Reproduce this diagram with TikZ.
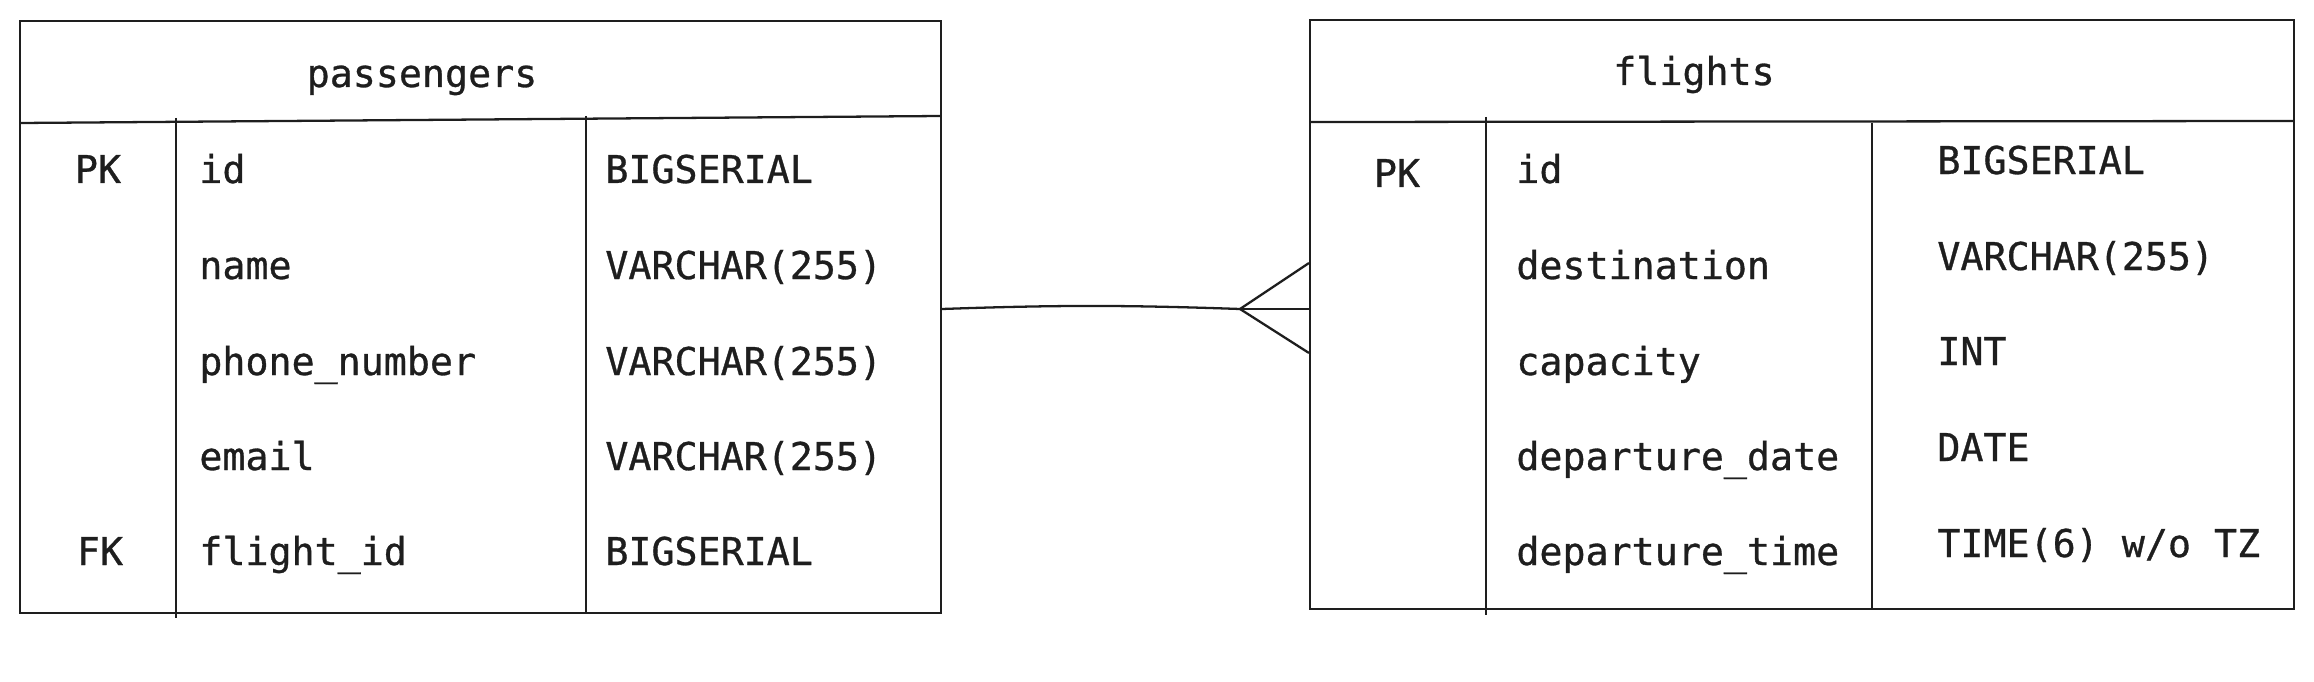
\documentclass[tikz,border=0pt]{standalone}
\usepackage{fontspec}
\usepackage{tikz}
\newfontfamily\codefont[FakeBold=0.8]{DejaVu Sans Mono}
\definecolor{ink}{HTML}{1E1E1E}

\begin{document}
\begin{tikzpicture}
      [
      x=0.02cm, y=-0.02cm,
      ln/.style={draw=ink,line width=1.3pt},
      table/.style={ln,rectangle,inner sep=0pt},
      fieldname/.style={font={\codefont\fontsize{21.8pt}{26pt}\selectfont},text=ink,inner sep=0pt,anchor=base west},
      fieldtype/.style={fieldname},
      keycol/.style={fieldname,anchor=base},
      tabtitle/.style={fieldname,anchor=base}
      ]
      \useasboundingbox (0,0) rectangle (2314,682);
      \node (pbox) at (480.5,317) [table,minimum width=18.42cm,minimum height=11.84cm] {};
      \node (fbox) at (1802,314.5) [table,minimum width=19.68cm,minimum height=11.78cm] {};
      \draw [ln] (20,123) -- (941,116);
      \draw [ln] (176,118) -- (176,618);
      \draw [ln] (586,116) -- (586,613);
      \draw [ln] (1310,122) -- (2294,121);
      \draw [ln] (1486,117) -- (1486,615);
      \draw [ln] (1872,123) -- (1872,609);
      \node (ptitle) at (422,87) [tabtitle] {passengers};
      \node (ftitle) at (1694,85) [tabtitle] {flights};
      \node (ppk) at (98,183) [keycol] {PK};
      \node (pfk) at (100,565) [keycol] {FK};
      \node (fpk) at (1397,187) [keycol] {PK};
      \node (pid) at (199,183) [fieldname] {id};
      \node (pname) at (199,279) [fieldname] {name};
      \node (pphone) at (199,375) [fieldname] {phone\_number};
      \node (pemail) at (199,470) [fieldname] {email};
      \node (pflight) at (199,565) [fieldname] {flight\_id};
      \node (pidt) at (605,183) [fieldtype] {BIGSERIAL};
      \node (pnamet) at (605,279) [fieldtype] {VARCHAR(255)};
      \node (pphonet) at (605,375) [fieldtype] {VARCHAR(255)};
      \node (pemailt) at (605,470) [fieldtype] {VARCHAR(255)};
      \node (pflightt) at (605,565) [fieldtype] {BIGSERIAL};
      \node (fid) at (1516,183) [fieldname] {id};
      \node (fdest) at (1516,279) [fieldname] {destination};
      \node (fcap) at (1516,375) [fieldname] {capacity};
      \node (fdate) at (1516,470) [fieldname] {departure\_date};
      \node (ftime) at (1516,565) [fieldname] {departure\_time};
      \node (fidt) at (1937,174) [fieldtype] {BIGSERIAL};
      \node (fdestt) at (1937,270) [fieldtype] {VARCHAR(255)};
      \node (fcapt) at (1937,365) [fieldtype] {INT};
      \node (fdatet) at (1937,461) [fieldtype] {DATE};
      \node (ftimet) at (1937,557) [fieldtype] {TIME(6) w/o TZ};
      \coordinate (fork) at (1240,309);
      \coordinate (toe) at (fbox.west |- fork);
      \draw [ln] (pbox.east |- fork) to [out=2,in=178] (fork);
      \draw [ln] (fork) -- ([yshift=0.92cm]toe);
      \draw [ln] (fork) -- (toe);
      \draw [ln] (fork) -- ([yshift=-0.88cm]toe);
    \end{tikzpicture}
\end{document}
